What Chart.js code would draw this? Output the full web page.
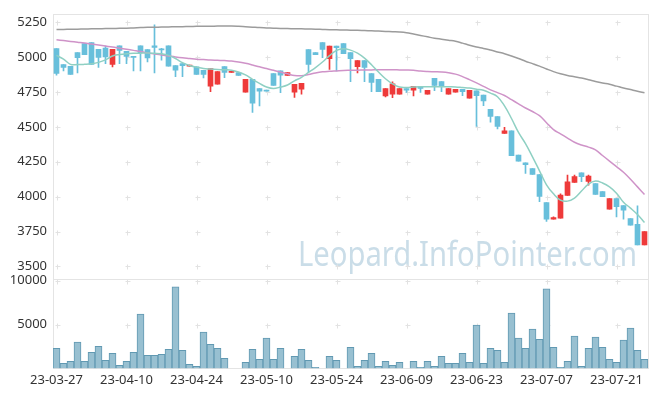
<!DOCTYPE html>
<html>
<head>
<meta charset="utf-8">
<script src="https://cdn.jsdelivr.net/npm/chart.js@4"></script>
<style>
  body { margin: 0; background: #fff; }
  #chart-container { width: 657px; height: 396px; }
</style>
</head>
<body>
<div id="chart-container"><canvas id="price-chart"></canvas></div>
<script>
// Trading days (one candle each)
const dates = [
  "23-03-27", "23-03-28", "23-03-29", "23-03-30", "23-03-31",
  "23-04-03", "23-04-04", "23-04-05", "23-04-06", "23-04-07",
  "23-04-10", "23-04-11", "23-04-12", "23-04-13", "23-04-14",
  "23-04-17", "23-04-18", "23-04-19", "23-04-20", "23-04-21",
  "23-04-24", "23-04-25", "23-04-26", "23-04-27", "23-04-28",
  "23-05-02", "23-05-03", "23-05-04", "23-05-08", "23-05-09",
  "23-05-10", "23-05-11", "23-05-12", "23-05-15", "23-05-16",
  "23-05-17", "23-05-18", "23-05-19", "23-05-22", "23-05-23",
  "23-05-24", "23-05-25", "23-05-26", "23-05-30", "23-05-31",
  "23-06-01", "23-06-02", "23-06-05", "23-06-07", "23-06-08",
  "23-06-09", "23-06-12", "23-06-13", "23-06-14", "23-06-15",
  "23-06-16", "23-06-19", "23-06-20", "23-06-21", "23-06-22",
  "23-06-23", "23-06-26", "23-06-27", "23-06-28", "23-06-29",
  "23-06-30", "23-07-03", "23-07-04", "23-07-05", "23-07-06",
  "23-07-07", "23-07-10", "23-07-11", "23-07-12", "23-07-13",
  "23-07-14", "23-07-17", "23-07-18", "23-07-19", "23-07-20",
  "23-07-21", "23-07-24", "23-07-25", "23-07-26", "23-07-27"
];

const opens = [
  5060, 4946, 4934, 5032, 5096, 5103, 5055, 5065, 4948, 5081,
  5041, 5005, 5081, 5053, 5081, 5058, 5081, 4939, 4953, 4935,
  4930, 4905, 4792, 4806, 4932, 4890, 4889, 4749, 4840, 4775,
  4760, 4882, 4901, 4868, 4749, 4770, 5053, 5032, 5103, 4989,
  5079, 5096, 5032, 4932, 4975, 4882, 4840, 4721, 4735, 4735,
  4775, 4763, 4790, 4735, 4847, 4825, 4735, 4749, 4768, 4706,
  4759, 4728, 4626, 4574, 4453, 4472, 4297, 4242, 4201, 4159,
  3957, 3839, 3846, 4009, 4102, 4171, 4109, 4093, 4036, 3910,
  3986, 3936, 3843, 3801, 3654
];
const highs = [
  5060, 4946, 4934, 5032, 5096, 5103, 5055, 5079, 5055, 5081,
  5041, 5005, 5081, 5053, 5231, 5062, 5081, 4939, 4953, 4935,
  4930, 4905, 4918, 4896, 4932, 4890, 4889, 4840, 4840, 4775,
  4760, 4882, 4901, 4889, 4804, 4811, 5053, 5032, 5103, 5079,
  5079, 5096, 5032, 4975, 4975, 4882, 4840, 4775, 4823, 4775,
  4775, 4790, 4790, 4761, 4847, 4825, 4775, 4768, 4768, 4761,
  4759, 4728, 4626, 4574, 4496, 4472, 4297, 4242, 4201, 4159,
  3957, 3855, 4021, 4154, 4154, 4171, 4154, 4093, 4036, 3986,
  3986, 3936, 3843, 3934, 3749
];
const lows = [
  4870, 4901, 4875, 4887, 5017, 4948, 4925, 4953, 4930, 4953,
  4953, 4901, 4901, 4965, 4887, 4977, 4934, 4859, 4859, 4935,
  4875, 4850, 4752, 4806, 4852, 4890, 4868, 4749, 4603, 4650,
  4756, 4797, 4745, 4868, 4711, 4735, 4894, 5017, 4996, 4911,
  4901, 5024, 4823, 4887, 4823, 4752, 4752, 4715, 4709, 4735,
  4747, 4721, 4747, 4735, 4759, 4752, 4735, 4749, 4724, 4706,
  4503, 4652, 4534, 4486, 4453, 4294, 4254, 4166, 4159, 3964,
  3822, 3839, 3846, 4009, 4102, 4107, 4083, 4016, 4000, 3910,
  3855, 3839, 3796, 3654, 3654
];
const closes = [
  4882, 4925, 4875, 4996, 5017, 4948, 4998, 5001, 5055, 5048,
  5005, 4998, 5032, 4994, 5069, 5051, 4934, 4906, 4939, 4935,
  4875, 4876, 4918, 4896, 4890, 4890, 4868, 4840, 4669, 4756,
  4756, 4797, 4870, 4889, 4804, 4811, 4948, 5017, 5055, 5079,
  5067, 5024, 4989, 4975, 4925, 4818, 4752, 4775, 4809, 4775,
  4763, 4790, 4775, 4761, 4797, 4788, 4775, 4768, 4752, 4761,
  4724, 4685, 4574, 4503, 4472, 4294, 4254, 4230, 4159, 4002,
  3839, 3850, 4012, 4107, 4143, 4143, 4147, 4016, 4000, 3986,
  3929, 3903, 3796, 3654, 3749
];
const volumes = [
  2300, 575, 805, 2990, 805, 1840, 2530, 920, 1725, 345,
  805, 1840, 6200, 1495, 1495, 1610, 2185, 9310, 2070, 460,
  230, 4140, 2760, 2300, 1150, 0, 0, 690, 2185, 1035,
  3450, 1035, 2300, 0, 1380, 2185, 920, 115, 0, 1380,
  920, 0, 2415, 230, 920, 1725, 230, 805, 345, 690,
  0, 805, 115, 805, 230, 1380, 575, 575, 1725, 690,
  4940, 575, 2300, 2070, 690, 6320, 3450, 2300, 4480, 3330,
  9080, 2415, 115, 805, 3680, 230, 2300, 3560, 2415, 1035,
  690, 3220, 4600, 2070, 1035
];

// Moving averages
const maShort = [
  5012, 4985, 4948, 4946, 4948, 4952, 4962, 4980, 5008, 5018,
  5024, 5027, 5028, 5029, 5027, 5024, 5012, 4990, 4960, 4940,
  4928, 4918, 4914, 4911, 4909, 4906, 4893, 4872, 4840, 4811,
  4786, 4775, 4785, 4800, 4830, 4855, 4890, 4925, 4965, 5010,
  5048, 5060, 5050, 5028, 4992, 4945, 4893, 4845, 4808, 4785,
  4782, 4785, 4787, 4788, 4788, 4788, 4787, 4786, 4782, 4778,
  4770, 4762, 4742, 4716, 4650, 4560, 4460, 4380, 4285, 4185,
  4085, 4020, 3975, 3968, 3990, 4040, 4090, 4112, 4098, 4070,
  4025, 3960, 3918, 3872, 3815
];
const maMid = [
  5124, 5118, 5112, 5106, 5100, 5093, 5086, 5079, 5072, 5064,
  5056, 5048, 5040, 5030, 5022, 5015, 5008, 5001, 4995, 4990,
  4985, 4982, 4979, 4977, 4975, 4972, 4965, 4955, 4943, 4930,
  4918, 4905, 4893, 4880, 4868, 4866, 4875, 4886, 4894, 4898,
  4901, 4904, 4905, 4906, 4907, 4908, 4909, 4909, 4909, 4908,
  4907, 4905, 4900, 4897, 4895, 4893, 4888, 4878, 4860, 4838,
  4815, 4790, 4765, 4745, 4725, 4695, 4665, 4635, 4610, 4580,
  4530, 4480, 4450, 4420, 4390, 4370, 4355, 4335, 4295, 4255,
  4215, 4175, 4125, 4070, 4016
];
const maLong = [
  5197, 5198, 5199, 5200, 5201, 5202, 5203, 5204, 5205, 5206,
  5207, 5209, 5211, 5213, 5214, 5215, 5216, 5217, 5218, 5219,
  5220, 5221, 5221, 5222, 5222, 5222, 5220, 5217, 5214, 5211,
  5209, 5207, 5205, 5204, 5203, 5202, 5201, 5200, 5198, 5196,
  5195, 5194, 5193, 5192, 5190, 5188, 5186, 5184, 5182, 5180,
  5175, 5165, 5155, 5145, 5135, 5128, 5121, 5114, 5100, 5085,
  5072, 5062, 5050, 5037, 5024, 5008, 4990, 4970, 4953, 4935,
  4915, 4896, 4880, 4868, 4859, 4850, 4838, 4825, 4814, 4805,
  4792, 4779, 4767, 4755, 4745
];

const priceTicks = [3500, 3750, 4000, 4250, 4500, 4750, 5000, 5250];
const volumeTicks = [5000, 10000];

const UP_COLOR = '#ee3a3a';
const DOWN_COLOR = '#68bfdb';
const FONT = { family: 'Noto Sans', size: 13 };

/**
 * Picks the candle colour: red when it closed up, blue when down.
 */
function candleColors() {
  return closes.map((c, i) => (c >= opens[i] ? UP_COLOR : DOWN_COLOR));
}

/**
 * Keeps only the tick values listed in the given array.
 */
function keepTicks(list) {
  return scale => {
    scale.ticks = list.map(v => ({ value: v }));
  };
}

// Grid crosses, panel borders and the watermark
const decorPlugin = {
  id: 'decor',
  beforeDatasetsDraw(chart) {
    const { ctx, scales } = chart;
    const x = scales.x;
    const panels = [scales.y, scales.yVol];

    ctx.save();
    // watermark (squeezed to the narrow width of the original)
    ctx.font = '34px "Noto Sans"';
    ctx.fillStyle = '#cadde8';
    ctx.textAlign = 'right';
    ctx.textBaseline = 'alphabetic';
    ctx.fillText('Leopard.InfoPointer.com', x.right - 11, scales.y.bottom - 13, 339);

    // crosses on the grid intersections
    ctx.strokeStyle = '#e2e2e2';
    ctx.lineWidth = 1;
    panels.forEach(s => {
      s.ticks.forEach(t => {
        const py = Math.round(s.getPixelForValue(t.value)) + 0.5;
        for (let i = 0; i < dates.length; i += 10) {
          const px = Math.round(x.getPixelForValue(i)) + 0.5;
          ctx.beginPath();
          ctx.moveTo(px - 2, py);
          ctx.lineTo(px + 3, py);
          ctx.moveTo(px, py - 2);
          ctx.lineTo(px, py + 3);
          ctx.stroke();
        }
      });
    });

    // panel frames
    ctx.strokeStyle = '#e4e4e4';
    panels.forEach(s => {
      ctx.strokeRect(Math.round(x.left) + 0.5, Math.round(s.top) + 0.5,
        Math.round(x.right - x.left), Math.round(s.bottom - s.top));
    });
    ctx.restore();
  }
};

function showChart() {
  const colors = candleColors();

  new Chart(document.getElementById('price-chart'), {
    data: {
      labels: dates,
      datasets: [
        {
          type: 'line', label: 'MA5', data: maShort, yAxisID: 'y', order: 0,
          borderColor: '#8fd0c3', borderWidth: 1.5, pointRadius: 0, tension: 0.4
        },
        {
          type: 'line', label: 'MA20', data: maMid, yAxisID: 'y', order: 0,
          borderColor: '#cf93c8', borderWidth: 1.5, pointRadius: 0, tension: 0.4
        },
        {
          type: 'line', label: 'MA60', data: maLong, yAxisID: 'y', order: 0,
          borderColor: '#9c9c9c', borderWidth: 1.5, pointRadius: 0, tension: 0.4
        },
        {
          type: 'bar', label: 'body', yAxisID: 'y', order: 1, grouped: false,
          data: opens.map((o, i) => [o, closes[i]]),
          backgroundColor: colors, barThickness: 5, minBarLength: 1
        },
        {
          type: 'bar', label: 'wick', yAxisID: 'y', order: 2, grouped: false,
          data: lows.map((l, i) => [l, highs[i]]),
          backgroundColor: colors, barThickness: 1, minBarLength: 1
        },
        {
          type: 'bar', label: 'volume', yAxisID: 'yVol', order: 3, grouped: false,
          data: volumes,
          backgroundColor: '#98c0d1', borderColor: '#6199b2', borderWidth: 1,
          barPercentage: 1, categoryPercentage: 1
        }
      ]
    },
    options: {
      responsive: true,
      maintainAspectRatio: false,
      animation: false,
      layout: { padding: { top: 10, right: 9, bottom: 4, left: 0 } },
      plugins: {
        legend: { display: false },
        tooltip: { enabled: false }
      },
      scales: {
        x: {
          type: 'category',
          offset: true,
          grid: { display: false, drawTicks: false },
          border: { display: false },
          ticks: {
            autoSkip: false, maxRotation: 0, padding: 4,
            color: '#333', font: FONT,
            callback: function (val, index) {
              return index % 10 === 0 ? this.getLabelForValue(val) : '';
            }
          }
        },
        // the volume panel is listed first: stacked boxes are placed bottom-up here
        yVol: {
          type: 'linear', position: 'left', stack: 'panels', stackWeight: 90,
          min: 0, max: 10200,
          afterBuildTicks: keepTicks(volumeTicks),
          afterFit: s => { s.width = 53; },
          grid: { display: false, drawTicks: false },
          border: { display: false },
          ticks: { padding: 6, color: '#333', font: FONT, callback: v => String(v) }
        },
        y: {
          type: 'linear', position: 'left', stack: 'panels', stackWeight: 267,
          min: 3410, max: 5310,
          afterBuildTicks: keepTicks(priceTicks),
          afterFit: s => { s.width = 53; },
          grid: { display: false, drawTicks: false },
          border: { display: false },
          ticks: { padding: 6, color: '#333', font: FONT, callback: v => String(v) }
        }
      }
    },
    plugins: [decorPlugin]
  });
}

showChart();
</script>
</body>
</html>
